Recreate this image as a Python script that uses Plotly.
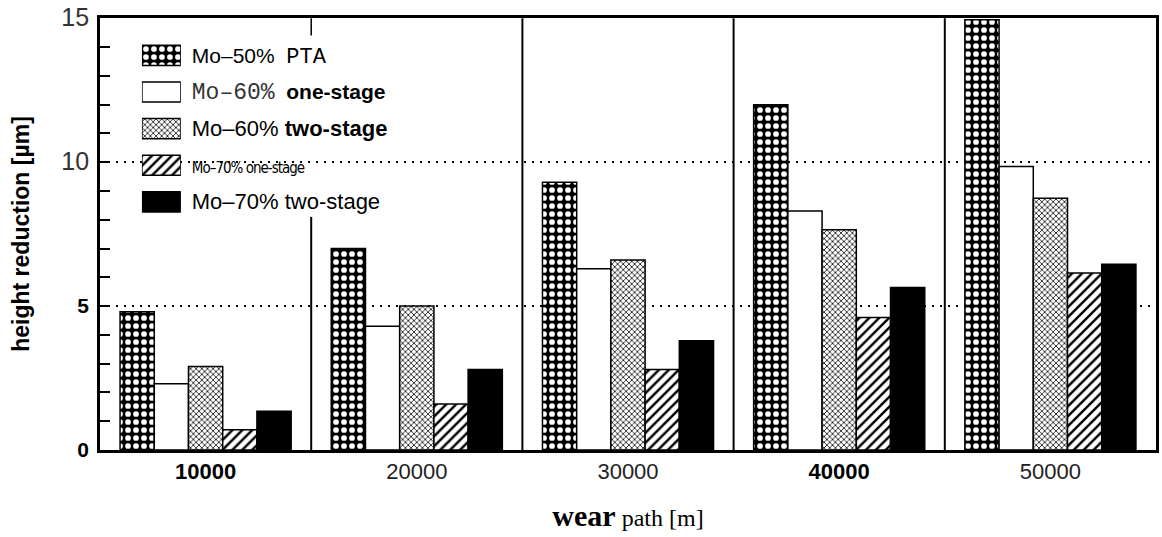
import plotly.graph_objects as go

# ---------------- data ----------------
categories = ["10000", "20000", "30000", "40000", "50000"]
series_names = ["Mo–50% PTA", "Mo–60% one-stage", "Mo–60% two-stage",
                "Mo–70% one-stage", "Mo–70% two-stage"]
mo50_pta = [4.8, 7.0, 9.3, 12.0, 14.95]
mo60_one = [2.3, 4.3, 6.3, 8.3, 9.85]
mo60_two = [2.9, 5.0, 6.6, 7.65, 8.75]
mo70_one = [0.7, 1.6, 2.8, 4.6, 6.15]
mo70_two = [1.35, 2.8, 3.8, 5.65, 6.45]
series_values = [mo50_pta, mo60_one, mo60_two, mo70_one, mo70_two]
y_tick_values = [0, 5, 10, 15]
y_tick_labels = ["0", "5", "10", "15"]
legend_labels = [
    'Mo–50%  <span style="font-family:Liberation Mono;font-size:22px">PTA</span>',
    '<span style="font-family:Liberation Mono;font-size:23px;color:#333">Mo–60%</span>  <b>one-stage</b>',
    '<span style="font-size:22px">Mo–60% <b>two-stage</b></span>',
    '<span style="font-family:DejaVu Sans Condensed, Liberation Sans;font-size:15px;letter-spacing:-1px">Mo–70% one-stage</span>',
    '<span style="font-size:22px">Mo–70% two-stage</span>',
]

# ---------------- styles ----------------
styles = [
    dict(color="black", pattern=dict(shape=".", bgcolor="black", fgcolor="white", size=8, solidity=0.4, fillmode="replace")),
    dict(color="white", pattern=dict(shape="")),
    dict(color="white", pattern=dict(shape="x", bgcolor="white", fgcolor="black", size=4, solidity=0.35, fillmode="replace")),
    dict(color="white", pattern=dict(shape="/", bgcolor="white", fgcolor="black", size=7, solidity=0.35, fillmode="replace")),
    dict(color="black", pattern=dict(shape="")),
]

fig = go.Figure()
for name, vals, st in zip(series_names, series_values, styles):
    fig.add_trace(go.Bar(
        x=categories, y=vals, name=name, showlegend=False,
        marker=dict(color=st["color"], pattern=st["pattern"],
                    line=dict(color="black", width=1.5)),
        hoverinfo="skip", xaxis="x", yaxis="y",
    ))

# inset legend swatches (one bar per series on a small inset axis)
for name, st in zip(series_names, styles):
    fig.add_trace(go.Bar(
        x=[1], y=[name], orientation="h", width=0.55,
        offsetgroup="legend", showlegend=False, hoverinfo="skip",
        xaxis="x2", yaxis="y2",
        marker=dict(color=st["color"], pattern=st["pattern"],
                    line=dict(color="black", width=1.5)),
    ))

x_ticktext = [
    "<b>10000</b>",
    '<span style="color:#222">20000</span>',
    '<span style="color:#222">30000</span>',
    "<b>40000</b>",
    '<span style="color:#222">50000</span>',
]
y_ticktext = []
for lab in y_tick_labels:
    if lab in ("10", "15"):
        y_ticktext.append('<span style="font-size:25px;color:#333">%s</span>' % lab)
    else:
        y_ticktext.append("<b>%s</b>" % lab)

# separators between groups
shapes = []
for i in range(len(categories) - 1):
    xpos = i + 0.5
    if i == 0:
        shapes.append(dict(type="line", xref="x", yref="y", x0=xpos, x1=xpos, y0=0, y1=8.1,
                           line=dict(color="black", width=2)))
        shapes.append(dict(type="line", xref="x", yref="y", x0=xpos, x1=xpos, y0=14.4, y1=15,
                           line=dict(color="black", width=1.5)))
    else:
        shapes.append(dict(type="line", xref="x", yref="y", x0=xpos, x1=xpos, y0=0, y1=15,
                           line=dict(color="black", width=2)))

fig.update_layout(
    width=1162, height=537,
    margin=dict(l=100, r=3, t=14, b=87),
    paper_bgcolor="white", plot_bgcolor="rgba(0,0,0,0)",
    font=dict(family="Liberation Sans", color="black", size=21),
    barmode="group", bargap=0.19, bargroupgap=0,
    shapes=shapes,
    xaxis=dict(
        type="category", range=[-0.5, 4.5], domain=[0, 1],
        tickvals=categories, ticktext=x_ticktext, ticks="",
        tickfont=dict(size=22, family="Liberation Sans"),
        showline=True, linecolor="black", linewidth=3, mirror=True,
        showgrid=False, zeroline=False,
        title=dict(text='<b style="font-size:30px">wear</b> path [m]',
                   font=dict(family="Liberation Serif", size=24), standoff=26),
    ),
    yaxis=dict(
        range=[0, 15.01], domain=[0, 1],
        tickvals=y_tick_values, ticktext=y_ticktext,
        ticks="inside", ticklen=10, tickwidth=1.5, tickcolor="black",
        ticklabelstandoff=4, ticklabeloverflow="allow",
        tickfont=dict(size=21, family="Liberation Sans"),
        minor=dict(dtick=1, ticks="inside", ticklen=10, tickwidth=1.5, tickcolor="black", showgrid=False),
        showline=True, linecolor="black", linewidth=2.5, mirror=True,
        showgrid=True, gridcolor="black", gridwidth=2, griddash="2px,6px",
        zeroline=False,
        title=dict(text="<b>height reduction [µm]</b>",
                   font=dict(family="Liberation Sans", size=23), standoff=26),
    ),
    xaxis2=dict(domain=[0.0397, 0.0765], range=[0, 1], anchor="y2",
                showticklabels=False, showgrid=False, zeroline=False, showline=False, ticks=""),
    yaxis2=dict(domain=[0.532, 0.956], anchor="x2", side="right", type="category",
                autorange="reversed", tickvals=series_names, ticktext=legend_labels,
                ticks="", showgrid=False, zeroline=False, showline=False,
                ticklabelstandoff=10,
                tickfont=dict(size=21, family="Liberation Sans", color="black")),
)

fig.write_html("out.html")
